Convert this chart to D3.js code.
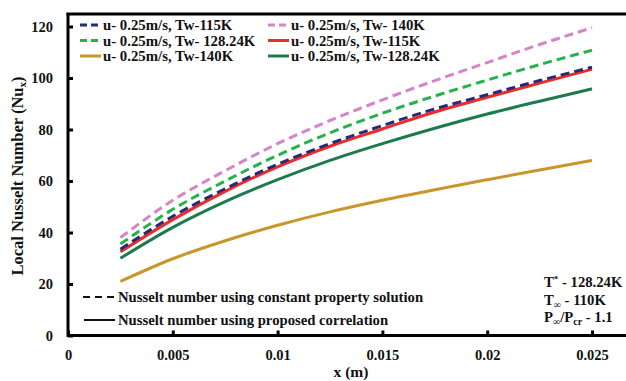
<!DOCTYPE html>
<html><head><meta charset="utf-8">
<script src="https://cdn.jsdelivr.net/npm/d3@7/dist/d3.min.js"></script>
<style>
body{margin:0;background:#fff;}
text{font-family:"Liberation Serif","Times New Roman",serif;font-weight:bold;fill:#111;}
</style></head>
<body><svg id="c" width="626" height="381"></svg>
<script>
const xValues = [0.0025,0.005,0.0075,0.01,0.0125,0.015,0.0175,0.02,0.0225,0.025];
const nuPinkDashed140 = [38,52.5,64,74.5,83.5,91.5,99,106,113,119.5];
const nuGreenDashed128 = [35.5,49,60,70,78.7,86.3,93,99.2,105.2,110.8];
const nuNavyDashed115 = [33.5,46.3,57,66.5,74.5,81.5,88,93.5,99,104.2];
const nuRedSolid115 = [32.5,45,56,65.5,73.5,80.2,86.8,92.5,98,103.4];
const nuDarkGreenSolid128 = [30,42,52,60.5,68,74.5,80.5,86,91,95.8];
const nuGoldSolid140 = [21,29.8,36.8,42.8,48,52.5,56.6,60.5,64.3,68];
const xTicks = [0,0.005,0.01,0.015,0.02,0.025];
const xTickLabels = ["0","0.005","0.01","0.015","0.02","0.025"];
const yTicks = [0,20,40,60,80,100,120];

const series = [
  {name:"u- 0.25m/s, Tw-115K", vals:nuNavyDashed115, color:"#272a78", dash:true, col:0,row:0},
  {name:"u- 0.25m/s, Tw- 140K", vals:nuPinkDashed140, color:"#d783c8", dash:true, col:1,row:0},
  {name:"u- 0.25m/s, Tw- 128.24K", vals:nuGreenDashed128, color:"#25b24a", dash:true, col:0,row:1},
  {name:"u- 0.25m/s, Tw-115K", vals:nuRedSolid115, color:"#ee2b2b", dash:false, col:1,row:1},
  {name:"u- 0.25m/s, Tw-140K", vals:nuGoldSolid140, color:"#c8972c", dash:false, col:0,row:2},
  {name:"u- 0.25m/s, Tw-128.24K", vals:nuDarkGreenSolid128, color:"#1b7b4d", dash:false, col:1,row:2}
];
const drawOrder = [4,5,3,0,2,1];

const svg = d3.select("#c");
const x = d3.scaleLinear().domain([0,0.025]).range([68,592]);
const y = d3.scaleLinear().domain([0,120]).range([335.5,26.5]);

// curves
const line = d3.line().x(d=>x(d[0])).y(d=>y(d[1])).curve(d3.curveMonotoneX);
drawOrder.forEach(i=>{
  const s = series[i];
  svg.append("path").attr("d", line(xValues.map((v,j)=>[v,s.vals[j]])))
    .attr("fill","none").attr("stroke",s.color).attr("stroke-width",3)
    .attr("stroke-dasharray", s.dash ? "9,5" : null);
});

// axes
const xAxis = svg.append("g").attr("transform","translate(0,335.5)")
  .call(d3.axisBottom(x).tickValues(xTicks).tickFormat((d,i)=>xTickLabels[i]).tickSize(-5).tickPadding(14));
const yAxis = svg.append("g").attr("transform","translate(68,0)")
  .call(d3.axisLeft(y).tickValues(yTicks).tickSize(-5).tickPadding(15));
[xAxis,yAxis].forEach(g=>{
  g.select(".domain").remove();
  g.selectAll(".tick line").attr("stroke","#000").attr("stroke-width",3);
  g.selectAll(".tick text").style("font-size","14.5px").attr("fill","#111")
    .style("font-family","'Liberation Serif',serif").style("font-weight","bold");
});
svg.append("line").attr("x1",68).attr("x2",626).attr("y1",335.5).attr("y2",335.5).attr("stroke","#000").attr("stroke-width",3);
svg.append("line").attr("x1",68).attr("x2",68).attr("y1",13).attr("y2",337).attr("stroke","#000").attr("stroke-width",3);
svg.append("line").attr("x1",66.5).attr("x2",626).attr("y1",14).attr("y2",14).attr("stroke","#000").attr("stroke-width",3);

// axis titles
svg.append("text").attr("x",351).attr("y",377).attr("text-anchor","middle").style("font-size","15.5px").text("x (m)");
const yt = svg.append("text").attr("transform","translate(23,176) rotate(-90)").attr("text-anchor","middle").style("font-size","16.5px");
yt.append("tspan").text("Local Nusselt Number (Nu");
yt.append("tspan").attr("dy",3).style("font-size","11px").text("x");
yt.append("tspan").attr("dy",-3).text(")");

// legend
const legCols = [80,268], legRows = [25,40.5,56];
series.forEach(s=>{
  const lx = legCols[s.col], ly = legRows[s.row];
  svg.append("line").attr("x1",lx).attr("x2",lx+21).attr("y1",ly).attr("y2",ly)
    .attr("stroke",s.color).attr("stroke-width",3).attr("stroke-dasharray", s.dash? "7,4": null);
  svg.append("text").attr("x",lx+23).attr("y",ly+5).style("font-size","14.8px").text(s.name);
});

// bottom legend
svg.append("line").attr("x1",83).attr("x2",115).attr("y1",297).attr("y2",297).attr("stroke","#111").attr("stroke-width",2).attr("stroke-dasharray","7,5");
svg.append("text").attr("x",118).attr("y",302).style("font-size","14.7px").text("Nusselt number using constant property solution");
svg.append("line").attr("x1",84).attr("x2",115).attr("y1",320).attr("y2",320).attr("stroke","#111").attr("stroke-width",2);
svg.append("text").attr("x",118).attr("y",325).style("font-size","14.7px").text("Nusselt number using proposed correlation");

// annotations
const a1 = svg.append("text").attr("x",544).attr("y",287).style("font-size","14.7px");
a1.append("tspan").text("T");
a1.append("tspan").attr("dy",-5).style("font-size","9px").text("*");
a1.append("tspan").attr("dy",5).text(" - 128.24K");
const a2 = svg.append("text").attr("x",544).attr("y",305).style("font-size","14.7px");
a2.append("tspan").text("T");
a2.append("tspan").attr("dy",3).style("font-size","10px").text("∞");
a2.append("tspan").attr("dy",-3).text(" - 110K");
const a3 = svg.append("text").attr("x",544).attr("y",322).style("font-size","14.7px");
a3.append("tspan").text("P");
a3.append("tspan").attr("dy",3).style("font-size","10px").text("∞");
a3.append("tspan").attr("dy",-3).text("/P");
a3.append("tspan").attr("dy",3).style("font-size","10px").text("cr");
a3.append("tspan").attr("dy",-3).text(" - 1.1");
</script></body></html>
